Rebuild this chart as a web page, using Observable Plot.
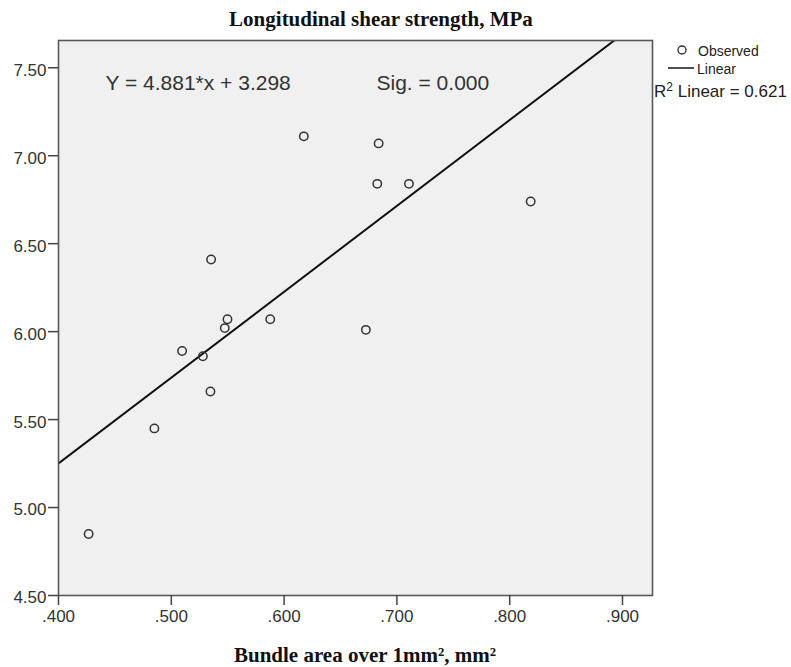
<!DOCTYPE html>
<html>
<head>
<meta charset="utf-8">
<script src="https://cdn.jsdelivr.net/npm/d3@7"></script>
<script src="https://cdn.jsdelivr.net/npm/@observablehq/plot@0.6"></script>
<style>
  html, body { margin: 0; padding: 0; background: #fff; }
  #wrap { position: relative; width: 791px; height: 667px; }
  #wrap > svg { position: absolute; left: 0; top: 0; }
  #overlay { pointer-events: none; }
</style>
</head>
<body>
<div id="wrap"></div>
<script>
// ---- data ----
const bundleArea = [0.4267, 0.485, 0.5096, 0.528, 0.5347, 0.5353, 0.5474, 0.5498, 0.5877, 0.6175, 0.6725, 0.6826, 0.6838, 0.7107, 0.8186];
const shearStrength = [4.85, 5.45, 5.89, 5.86, 5.66, 6.41, 6.02, 6.07, 6.07, 7.11, 6.01, 6.84, 7.07, 6.84, 6.74];
const slope = 4.881;
const intercept = 3.298;
const rSquared = 0.621;
const xDomain = [0.4, 0.9266];
const yDomain = [4.5, 7.655];
const xTicks = [0.4, 0.5, 0.6, 0.7, 0.8, 0.9];
const yTicks = [4.5, 5.0, 5.5, 6.0, 6.5, 7.0, 7.5];
const titleText = "Longitudinal shear strength, MPa";
const xLabelText = "Bundle area over 1mm², mm²";
const eqText = `Y = ${slope.toFixed(3)}*x + ${intercept.toFixed(3)}`;
const sigText = "Sig. = 0.000";

const points = bundleArea.map((x, i) => ({x, y: shearStrength[i]}));
const fit = xDomain.map(x => ({x, y: slope * x + intercept}));

const chart = Plot.plot({
  width: 791,
  height: 667,
  marginTop: 40,
  marginRight: 139,
  marginBottom: 72,
  marginLeft: 58,
  style: {fontFamily: "'Liberation Sans', Arial, sans-serif", fontSize: "17px", color: "#333", background: "transparent", overflow: "visible"},
  x: {domain: xDomain},
  y: {domain: yDomain},
  marks: [
    Plot.frame({fill: "#f0f0f0", stroke: null}),
    Plot.line(fit, {x: "x", y: "y", stroke: "#111", strokeWidth: 2, clip: "frame"}),
    Plot.dot(points, {x: "x", y: "y", r: 4.2, stroke: "#333", strokeWidth: 1.5, fill: "none"}),
    Plot.frame({stroke: "#595959", strokeWidth: 1.6}),
    Plot.axisY(yTicks, {tickSize: 10, text: null, label: null, stroke: "#444", strokeWidth: 1.5}),
    Plot.axisY(yTicks, {tickSize: 0, tickPadding: 12, tickFormat: d3.format(".2f"), label: null, stroke: "none", fill: "#333", fontSize: 17, dy: 2.5}),
    Plot.axisX(xTicks, {tickSize: 10, tickPadding: 4, tickFormat: d => d3.format(".3f")(d).replace(/^0/, ""), label: null, stroke: "#444", strokeWidth: 1.5, fill: "#333", fontSize: 17}),
    Plot.text([eqText], {text: d => d, frameAnchor: "top-left", dx: 47, dy: 49, lineAnchor: "bottom", fontSize: 21, fill: "#333"}),
    Plot.text([sigText], {text: d => d, frameAnchor: "top-left", dx: 318, dy: 49, lineAnchor: "bottom", fontSize: 21, fill: "#333"})
  ]
});

const wrap = document.getElementById("wrap");
wrap.appendChild(chart);

// ---- overlay: title, axis label, legend ----
const ov = d3.select(wrap).append("svg")
  .attr("id", "overlay")
  .attr("width", 791).attr("height", 667);

ov.append("text")
  .attr("x", 381).attr("y", 26)
  .attr("text-anchor", "middle")
  .style("font-family", "'Liberation Serif', 'Times New Roman', serif")
  .style("font-weight", "bold").style("font-size", "21px").attr("fill", "#111")
  .text(titleText);

ov.append("text")
  .attr("x", 365).attr("y", 662)
  .attr("text-anchor", "middle")
  .style("font-family", "'Liberation Serif', 'Times New Roman', serif")
  .style("font-weight", "bold").style("font-size", "21px").attr("fill", "#111")
  .text(xLabelText);

const lg = ov.append("g").style("font-family", "'Liberation Sans', Arial, sans-serif").attr("fill", "#222");
lg.append("circle").attr("cx", 682).attr("cy", 50).attr("r", 4).attr("fill", "none").attr("stroke", "#333").attr("stroke-width", 1.4);
lg.append("text").attr("x", 698).attr("y", 56).style("font-size", "14px").text("Observed");
lg.append("line").attr("x1", 668).attr("x2", 694).attr("y1", 68).attr("y2", 68).attr("stroke", "#222").attr("stroke-width", 1.6);
lg.append("text").attr("x", 697).attr("y", 74).style("font-size", "14px").text("Linear");
const r2 = lg.append("text").attr("x", 654).attr("y", 97).style("font-size", "17px");
r2.append("tspan").text("R");
r2.append("tspan").attr("dy", -6).style("font-size", "12px").text("2");
r2.append("tspan").attr("dy", 6).text(` Linear = ${rSquared.toFixed(3)}`);
</script>
</body>
</html>
